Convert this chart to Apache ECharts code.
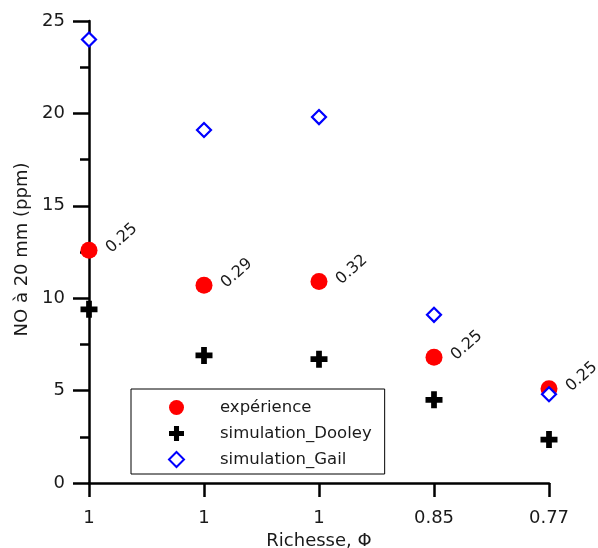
<!DOCTYPE html>
<html>
<head>
<meta charset="utf-8">
<script src="https://cdn.jsdelivr.net/npm/echarts@6/dist/echarts.min.js"></script>
<style>html,body{margin:0;padding:0;background:#fff;overflow:hidden}#c{width:598px;height:548px}</style>
</head>
<body>
<div id="c"></div>
<script>
var categories = ['1', '1', '1', '0.85', '0.77'];
var experience = [12.6, 10.7, 10.9, 6.8, 5.1];
var dooley = [9.4, 6.9, 6.7, 4.5, 2.35];
var gail = [24.0, 19.1, 19.8, 9.1, 4.8];
var pointLabels = ['0.25', '0.29', '0.32', '0.25', '0.25'];
var yTicks = [0, 5, 10, 15, 20, 25];

var FONT = 'DejaVu Sans';
var TXT = '#1a1a1a';
function pts(arr) { return arr.map(function (v, i) { return [i, v]; }); }
var plusPath = 'path://M5.3,0H10.7V5.3H16V10.7H10.7V16H5.3V10.7H0V5.3H5.3Z';

var chart = echarts.init(document.getElementById('c'), null, {renderer: 'canvas', width: 598, height: 548});
chart.setOption({
  animation: false,
  backgroundColor: '#fff',
  grid: {left: 89, top: 21, width: 460, height: 462, containLabel: false, outerBoundsMode: 'none'},
  xAxis: {
    type: 'value', min: 0, max: categories.length - 1, interval: 1,
    name: 'Richesse, Φ', nameLocation: 'middle', nameGap: 49,
    nameTextStyle: {fontFamily: FONT, fontSize: 18, color: TXT},
    axisLine: {show: true, onZero: false, lineStyle: {color: '#000', width: 2.5}},
    axisTick: {show: true, inside: false, length: 14, lineStyle: {color: '#000', width: 2.5}},
    axisLabel: {margin: 26, fontFamily: FONT, fontSize: 18, color: TXT,
      formatter: function (v) { return categories[v] !== undefined ? categories[v] : ''; }},
    splitLine: {show: false}
  },
  yAxis: {
    type: 'value', min: yTicks[0], max: yTicks[yTicks.length - 1], interval: 5,
    name: 'NO à 20 mm (ppm)', nameLocation: 'middle', nameGap: 56,
    nameTextStyle: {fontFamily: FONT, fontSize: 18, color: TXT, padding: [0, 0, 0, 5]},
    axisLine: {show: true, onZero: false, lineStyle: {color: '#000', width: 2.5}},
    axisTick: {show: true, inside: false, length: 16, lineStyle: {color: '#000', width: 2.5}},
    minorTick: {show: true, splitNumber: 2, length: 9, lineStyle: {color: '#000', width: 2.5}},
    axisLabel: {margin: 24, fontFamily: FONT, fontSize: 18, color: TXT},
    splitLine: {show: false}
  },
  legend: {
    orient: 'vertical', left: 131, top: 389,
    padding: [10, 13, 6, 37],
    borderColor: '#000', borderWidth: 1, backgroundColor: '#fff',
    itemWidth: 15, itemHeight: 15, itemGap: 9,
    selectedMode: false,
    formatter: function (n) { return '{a|' + n + '}'; },
    textStyle: {fontFamily: FONT, fontSize: 16.5, color: TXT, lineHeight: 15,
      rich: {a: {fontFamily: FONT, fontSize: 16.5, color: TXT, lineHeight: 15, padding: [0, 0, 0, 31]}}},
    data: ['expérience', 'simulation_Dooley', 'simulation_Gail']
  },
  series: [
    {
      name: 'expérience', type: 'scatter', data: pts(experience),
      symbol: 'circle', symbolSize: 17,
      itemStyle: {color: '#ff0000', opacity: 1},
      label: {show: true, position: 'right', distance: 11, rotate: 42,
        align: 'left', verticalAlign: 'middle',
        fontFamily: FONT, fontSize: 16, color: TXT,
        formatter: function (p) { return pointLabels[p.dataIndex]; }}
    },
    {
      name: 'simulation_Dooley', type: 'scatter', data: pts(dooley),
      symbol: plusPath, symbolSize: 17,
      itemStyle: {color: '#000', opacity: 1}
    },
    {
      name: 'simulation_Gail', type: 'scatter', data: pts(gail),
      symbol: 'diamond', symbolSize: 14,
      itemStyle: {color: '#fff', borderColor: '#0000ff', borderWidth: 2.2, opacity: 1}
    }
  ]
});
</script>
</body>
</html>
